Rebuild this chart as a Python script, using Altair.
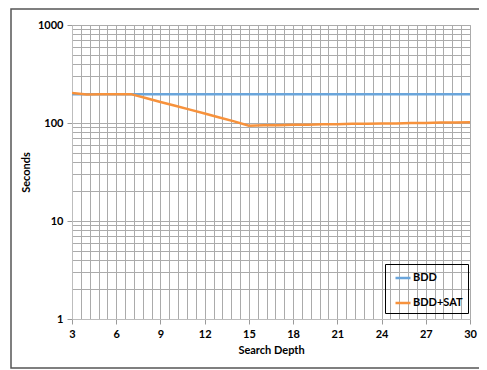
import altair as alt
import pandas as pd

depth = list(range(3, 31))
bdd = [197] * 28
bdd_sat = [202, 195, 196, 197, 197, 180, 164, 150, 137, 125, 114, 104, 94,
           95, 95, 96, 96, 97, 97, 98, 98, 99, 99, 100, 100, 101, 101, 102]
series_names = ["BDD", "BDD+SAT"]
colors = ["#6AA5DB", "#F7923C"]

x_grid = [round(3 + 0.6 * i, 1) for i in range(46)]
y_grid = [m * 10 ** k for k in range(3) for m in range(1, 10)] + [1000]

rows = []
for d, a, b in zip(depth, bdd, bdd_sat):
    rows.append({"depth": d, "seconds": a, "series": "BDD"})
    rows.append({"depth": d, "seconds": b, "series": "BDD+SAT"})
df = pd.DataFrame(rows)

FONT = "Lato"
W, H = 398, 294

x_major = "abs(datum.value/3 - round(datum.value/3)) < 0.001"
y_major = "indexof([1,10,100,1000], datum.value) >= 0"

lines = alt.Chart(df).mark_line(strokeWidth=2.5, clip=True).encode(
    x=alt.X("depth:Q",
            scale=alt.Scale(domain=[3, 30], nice=False, zero=False),
            axis=alt.Axis(values=x_grid, title="Search Depth",
                          labelExpr=f"{x_major} ? '' + round(datum.value) : ''",
                          tickOpacity={"condition": {"test": x_major, "value": 1}, "value": 0},
                          labelOverlap=False, labelFlush=False,
                          tickSize=5, labelPadding=4, titlePadding=5)),
    y=alt.Y("seconds:Q",
            scale=alt.Scale(type="log", domain=[1, 1000], nice=False),
            axis=alt.Axis(values=y_grid, title="Seconds",
                          labelExpr=f"{y_major} ? '' + round(datum.value) : ''",
                          tickOpacity={"condition": {"test": y_major, "value": 1}, "value": 0},
                          labelOverlap=False, labelFlush=False,
                          tickSize=5, labelPadding=4, titlePadding=6)),
    color=alt.Color("series:N",
                    scale=alt.Scale(domain=series_names, range=colors),
                    legend=alt.Legend(title=None, orient="none", legendX=313, legendY=239,
                                      symbolType="stroke", symbolSize=225,
                                      symbolStrokeWidth=2.5, labelOffset=1,
                                      symbolOffset=4,
                                      rowPadding=11, padding=5,
                                      strokeColor="#000000",
                                      labelFont=FONT, labelFontSize=11,
                                      labelFontWeight="bold", labelColor="#000")),
)

frame = alt.Chart(pd.DataFrame({"f": [0]})).mark_rect(
    fill=None, stroke="#555555", strokeWidth=1.5, clip=False
).encode(
    x=alt.value(-61), x2=alt.value(430),
    y=alt.value(-16), y2=alt.value(H + 49),
)

chart = alt.layer(frame, lines).properties(
    width=W, height=H,
    autosize=alt.AutoSizeParams(type="none"),
    padding={"left": 64, "top": 17, "right": 9, "bottom": 51},
).configure_axis(
    gridColor="#ababab", gridWidth=1, gridOpacity=1,
    domainColor="#bdbdbd", tickColor="#9a9a9a",
    labelFont=FONT, labelFontSize=11, labelFontWeight="bold", labelColor="#000",
    titleFont=FONT, titleFontSize=11, titleFontWeight="bold", titleColor="#000",
).configure_view(stroke="#bdbdbd")

chart.save("out.html", embed_options={"renderer": "svg", "actions": False})
